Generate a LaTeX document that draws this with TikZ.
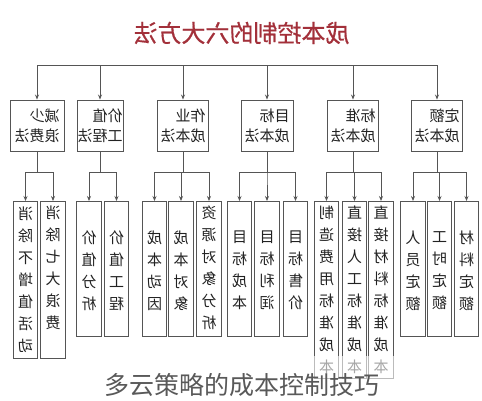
\documentclass[tikz,border=0pt]{standalone}
\usepackage{fontspec}
\newfontfamily\cjk{Noto Sans CJK SC}
\newfontfamily\cjkt{Noto Sans CJK SC}[FakeBold=0.6]
\usetikzlibrary{arrows.meta}
\definecolor{titlered}{HTML}{A3303A}
\definecolor{linegray}{HTML}{555555}
\definecolor{txt}{HTML}{222222}
\begin{document}
\begin{tikzpicture}[x=1pt,y=-1pt,
  mir/.style={xscale=-1},
  conn/.style={draw=linegray, line width=0.9pt},
  arr/.style={conn, -{Stealth[length=5pt,width=4pt]}},
  boxa/.style={draw=linegray, line width=0.9pt, minimum width=#1, minimum height=51pt,
    inner sep=0pt, align=left, font=\cjk\fontsize{15}{20}\selectfont, text=txt, mir},
  boxb/.style={draw=linegray, line width=0.9pt, minimum width=24.5pt, minimum height=#1,
    inner sep=0pt, anchor=north},
  vtext/.style={font=\cjk\fontsize{15}{22}\selectfont, align=center, inner sep=0pt, text=txt, mir}
]
\useasboundingbox (0,0) rectangle (482,400);
\fill[white] (0,0) rectangle (482,400);

% title
\node[font=\cjkt\fontsize{24}{24}\selectfont, text=titlered, mir] (title) at (241.5,33) {成本控制的六大方法};

% level 1
\node[boxa=54pt] (p1) at (37,125.5) {减少\\浪费法};
\node[boxa=46pt] (p2) at (100,125.5) {价值\\工程法};
\node[boxa=51pt] (p3) at (183,125.5) {作业\\成本法};
\node[boxa=52pt] (p4) at (267,125.5) {目标\\成本法};
\node[boxa=51pt] (p5) at (353,125.5) {标准\\成本法};
\node[boxa=51pt] (p6) at (437,125.5) {定额\\成本法};

\coordinate (hl) at (37,65);
\coordinate (hr) at (437,65);
\draw[conn] (hl) -- (hr);
\foreach \p in {p1,p2,p3,p4,p5,p6}{\draw[arr] (\p |- hl) -- (\p.north);}

% level 2 boxes
\node[boxb=157pt] (a1) at (25.5,201) {};
\node[boxb=157pt] (a2) at (53,201) {};
\node[boxb=135pt] (b1) at (89,201) {};
\node[boxb=135pt] (b2) at (116.5,201) {};
\node[boxb=135pt] (c1) at (154.5,201) {};
\node[boxb=135pt] (c2) at (181,201) {};
\node[boxb=135pt] (c3) at (209,201) {};
\node[boxb=135pt] (d1) at (239.5,201) {};
\node[boxb=135pt] (d2) at (267,201) {};
\node[boxb=135pt] (d3) at (295.5,201) {};
\node[boxb=177pt] (e1) at (326.5,201) {};
\node[boxb=177pt] (e2) at (354.5,201) {};
\node[boxb=177pt] (e3) at (381,201) {};
\node[boxb=135pt] (f1) at (413,201) {};
\node[boxb=135pt] (f2) at (439.5,201) {};
\node[boxb=135pt] (f3) at (466.5,201) {};

% level 2 texts
\node[vtext] (ta1) at (25.5,280) {消\\除\\不\\增\\值\\活\\动};
\node[vtext] (ta2) at (53,268) {消\\除\\七\\大\\浪\\费};
\node[vtext] (tb1) at (89,270.5) {价\\值\\分\\析};
\node[vtext] (tb2) at (116.5,270.5) {价\\值\\工\\程};
\node[vtext] (tc1) at (154.5,270.5) {成\\本\\动\\因};
\node[vtext] (tc2) at (181,270.5) {成\\本\\对\\象};
\node[vtext] (tc3) at (209,268) {资\\源\\对\\象\\分\\析};
\node[vtext] (td1) at (239.5,270.5) {目\\标\\成\\本};
\node[vtext] (td2) at (267,270.5) {目\\标\\利\\润};
\node[vtext] (td3) at (295.5,270.5) {目\\标\\售\\价};
\node[vtext] (te1) at (326.5,290) {制\\造\\费\\用\\标\\准\\成\\本};
\node[vtext] (te2) at (354.5,290) {直\\接\\人\\工\\标\\准\\成\\本};
\node[vtext] (te3) at (381,290) {直\\接\\材\\料\\标\\准\\成\\本};
\node[vtext] (tf1) at (413,270.5) {人\\员\\定\\额};
\node[vtext] (tf2) at (439.5,270.5) {工\\时\\定\\额};
\node[vtext] (tf3) at (466.5,270.5) {材\\料\\定\\额};

% connectors level 1 -> level 2
\foreach \p/\cs in {p1/{a1,a2}, p2/{b1,b2}, p3/{c1,c2,c3}, p4/{d1,d2,d3}, p5/{e1,e2,e3}, p6/{f1,f2,f3}}{
  \foreach \c in \cs {\draw[arr] (\p.south) -- ++(0,21) -| (\c.north);}
}

% watermark
\fill[white, opacity=0.6] (95,356) rectangle (405,400);
\node[font=\cjk\fontsize{25}{25}\selectfont, text=black!65] (wm) at (242,385) {多云策略的成本控制技巧};
\end{tikzpicture}
\end{document}
